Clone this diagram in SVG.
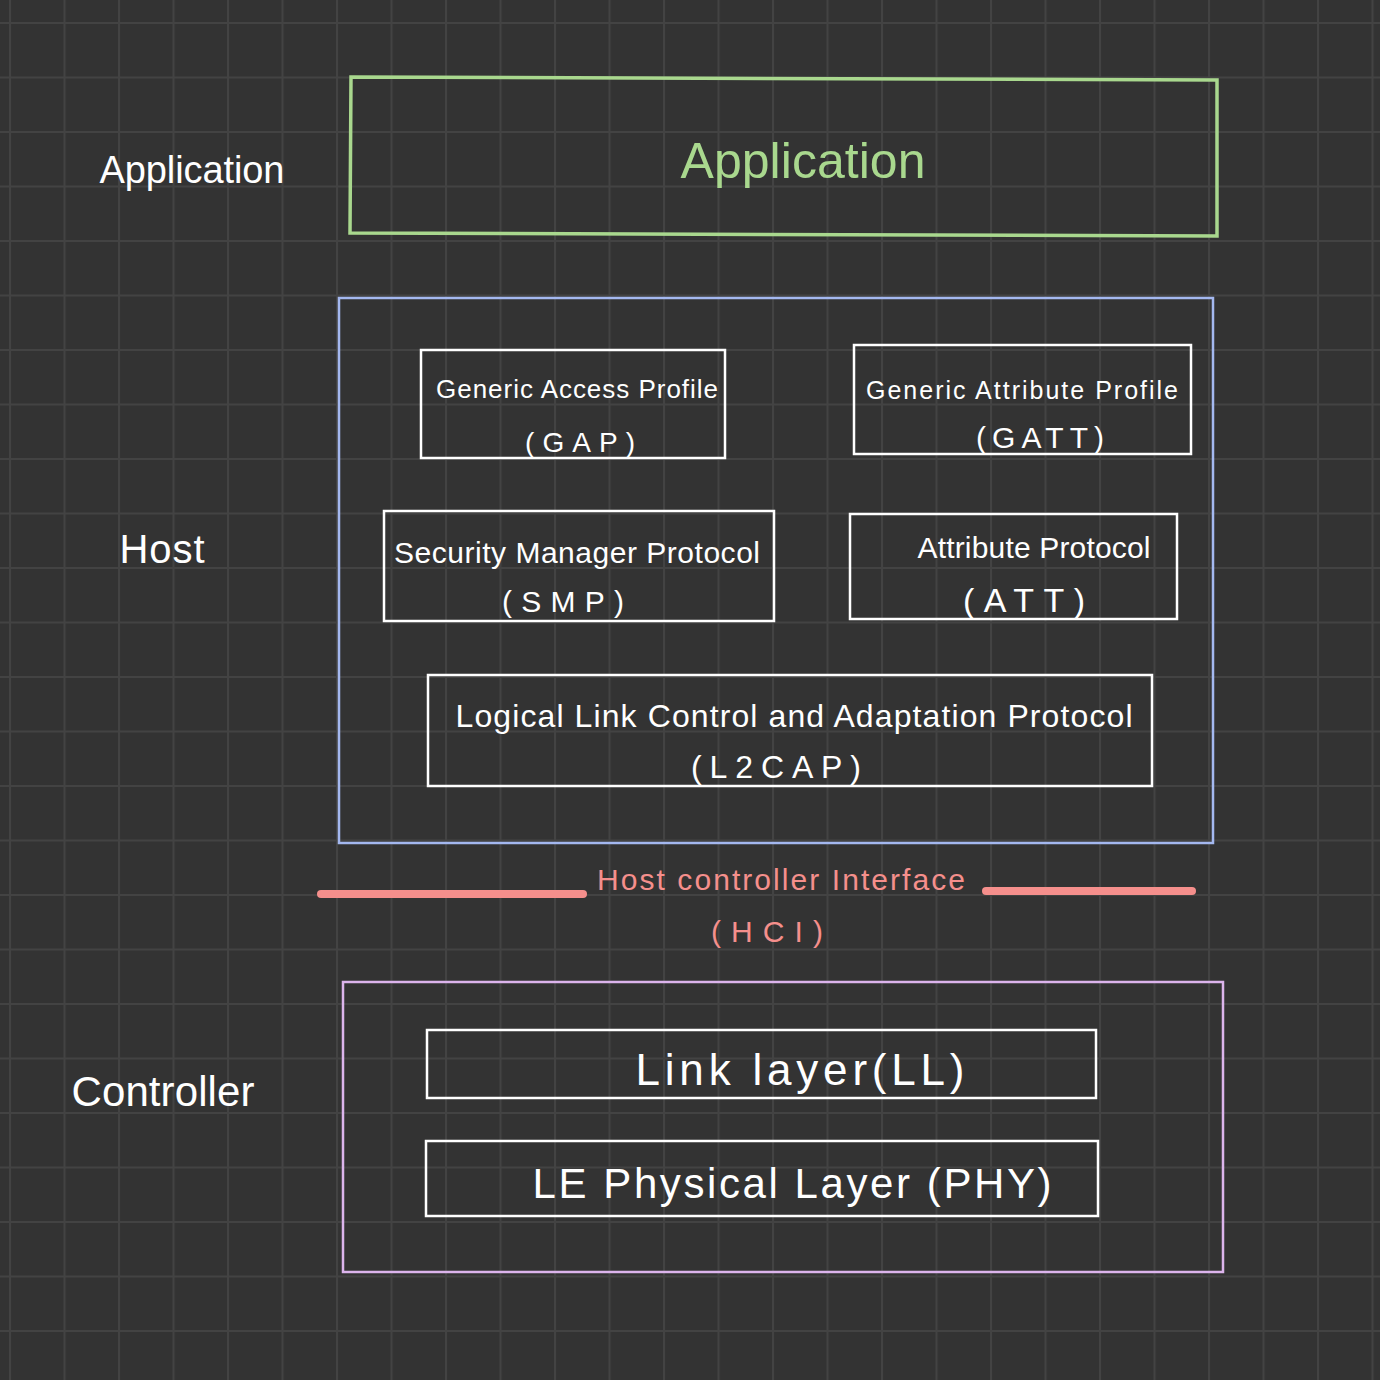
<svg xmlns="http://www.w3.org/2000/svg" width="1380" height="1380" viewBox="0 0 1380 1380">
<defs>
<pattern id="grid" x="9" y="22" width="54.5" height="54.5" patternUnits="userSpaceOnUse">
<path d="M0 1H54.5M1 0V54.5" fill="none" stroke="#434343" stroke-width="2"/>
</pattern>
<style>
.box{fill:none;stroke:#ffffff;stroke-width:2.5}
.t{font-family:"Liberation Sans",Arial,sans-serif;text-anchor:middle;fill:#ffffff}
.g{fill:#a9d88e}
.p{fill:#f58f8c}
</style>
</defs>
<rect width="1380" height="1380" fill="#333333"/>
<rect width="1380" height="1380" fill="url(#grid)"/>

<g id="label-application"><text class="t" x="192" y="183" font-size="38" textLength="185">Application</text></g>
<g id="label-host"><text class="t" x="162" y="563" font-size="40" textLength="85">Host</text></g>
<g id="label-controller"><text class="t" x="163" y="1106" font-size="42" textLength="183">Controller</text></g>

<g id="application">
<path d="M351 77 L1217 80 L1217 236 L350 233 Z" fill="none" stroke="#a9d88e" stroke-width="3.5"/>
<text class="t g" x="803" y="178" font-size="50" textLength="245">Application</text>
</g>

<g id="host">
<rect x="339" y="298" width="874" height="545" fill="none" stroke="#a4b8f0" stroke-width="2.5"/>
</g>

<g id="gap">
<rect class="box" x="421" y="350" width="304" height="108"/>
<text class="t" x="577" y="398" font-size="26" textLength="282">Generic Access Profile</text>
<text class="t" x="580" y="452" font-size="28" textLength="110">(GAP)</text>
</g>

<g id="gatt">
<rect class="box" x="854" y="345" width="337" height="109"/>
<text class="t" x="1022" y="399" font-size="25" textLength="312">Generic Attribute Profile</text>
<text class="t" x="1040" y="448" font-size="30" textLength="128">(GATT)</text>
</g>

<g id="smp">
<rect class="box" x="384" y="511" width="390" height="110"/>
<text class="t" x="577" y="563" font-size="30" textLength="366">Security Manager Protocol</text>
<text class="t" x="563" y="612" font-size="30" textLength="122">(SMP)</text>
</g>

<g id="att">
<rect class="box" x="850" y="514" width="327" height="105"/>
<text class="t" x="1034" y="558" font-size="30" textLength="233">Attribute Protocol</text>
<text class="t" x="1024" y="612" font-size="34" textLength="122">(ATT)</text>
</g>

<g id="l2cap">
<rect class="box" x="428" y="675" width="724" height="111"/>
<text class="t" x="794" y="727" font-size="32" textLength="677">Logical Link Control and Adaptation Protocol</text>
<text class="t" x="776" y="778" font-size="32" textLength="170">(L2CAP)</text>
</g>

<g id="hci">
<text class="t p" x="781" y="890" font-size="30" textLength="368">Host controller Interface</text>
<text class="t p" x="767" y="942" font-size="30" textLength="112">(HCI)</text>
</g>

<g id="connectors">
<line x1="321" y1="894" x2="583" y2="894" stroke="#f58f8c" stroke-width="8" stroke-linecap="round"/>
<line x1="986" y1="891" x2="1192" y2="891" stroke="#f58f8c" stroke-width="8" stroke-linecap="round"/>
</g>

<g id="controller">
<rect x="343" y="982" width="880" height="290" fill="none" stroke="#dcb4ec" stroke-width="2.5"/>
</g>

<g id="ll">
<rect class="box" x="427" y="1030" width="669" height="68"/>
<text class="t" x="800" y="1085" font-size="44" textLength="329">Link layer(LL)</text>
</g>

<g id="phy">
<rect class="box" x="426" y="1141" width="672" height="75"/>
<text class="t" x="792" y="1198" font-size="42" textLength="519">LE Physical Layer (PHY)</text>
</g>
</svg>
